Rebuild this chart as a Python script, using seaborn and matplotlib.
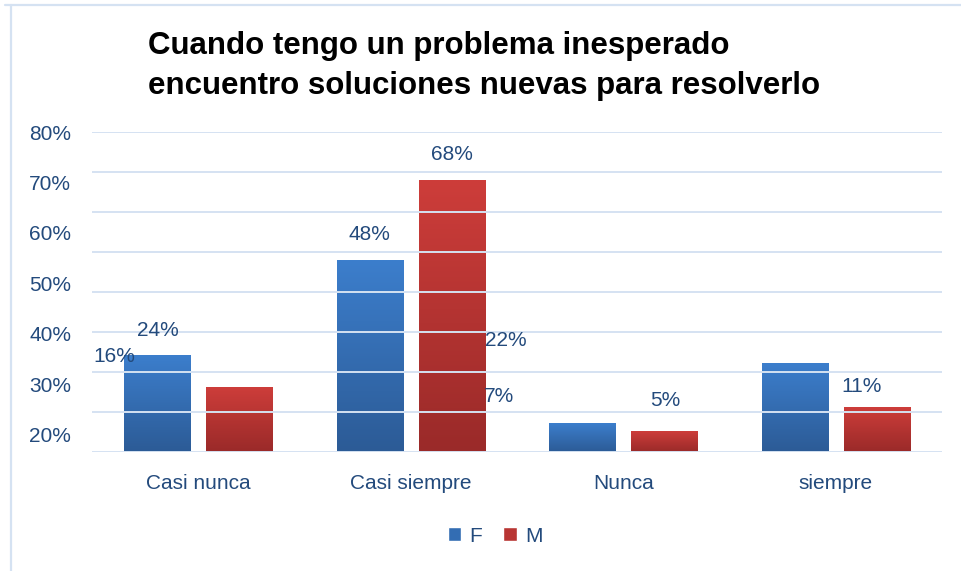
import numpy as np
import pandas as pd
import matplotlib
matplotlib.use("Agg")
import matplotlib.pyplot as plt
import seaborn as sns
from matplotlib.colors import LinearSegmentedColormap
from matplotlib.patches import Patch
from matplotlib.lines import Line2D

# data
categories = ["Casi nunca", "Casi siempre", "Nunca", "siempre"]
f_values = [24, 48, 7, 22]
m_values = [16, 68, 5, 11]
series = ["F", "M"]
ytick_labels = ["20%", "30%", "40%", "50%", "60%", "70%", "80%"]

# where the data labels sit relative to their bar top (pixels), like the original
f_label_offsets = [(1, 26), (0, 25), (-83, 27), (-289, 23)]
m_label_offsets = [(-125, 32), (0, 26), (1, 31), (-15, 22)]

text_color = "#234A7C"
grid_color = "#D5E2F2"
blue_top, blue_bot = "#3C7ECC", "#2C5B96"
red_top, red_bot = "#CD3D3A", "#9A2A29"

df = pd.DataFrame({
    "cat": categories * 2,
    "val": f_values + m_values,
    "sexo": ["F"] * len(categories) + ["M"] * len(categories),
})

sns.set_theme(style="white")
plt.rcParams["font.family"] = ["Liberation Sans", "DejaVu Sans"]

W, H = 962, 571
fig = plt.figure(figsize=(W / 100, H / 100), dpi=100)
ax = fig.add_axes([92 / W, 1 - 452 / H, 850 / W, 320 / H])

sns.barplot(data=df, x="cat", y="val", hue="sexo", hue_order=series,
            palette=[blue_top, red_top], width=0.772, gap=0.195,
            legend=False, ax=ax)

# gradient fill for the bars
cmaps = [LinearSegmentedColormap.from_list("b", [blue_bot, blue_top]),
         LinearSegmentedColormap.from_list("r", [red_bot, red_top])]
grad = np.linspace(1, 0, 128).reshape(-1, 1)
for cont, cmap in zip(ax.containers, cmaps):
    for p in cont.patches:
        x0, y0, w, h = p.get_x(), p.get_y(), p.get_width(), p.get_height()
        ax.imshow(grad, extent=[x0, x0 + w, y0, y0 + h], cmap=cmap,
                  aspect="auto", zorder=1.5, interpolation="bilinear")
        p.set_facecolor("none")

# data labels
for cont, vals, offs in zip(ax.containers, [f_values, m_values],
                            [f_label_offsets, m_label_offsets]):
    for p, v, (dx, dy) in zip(cont.patches, vals, offs):
        ax.annotate(f"{v}%", xy=(p.get_x() + p.get_width() / 2, p.get_height()),
                    xytext=(dx * 0.72, dy * 0.72), textcoords="offset points",
                    ha="center", va="center", fontsize=15, color=text_color,
                    zorder=4)

# the y labels of the original follow their own (offset) scale
ax2 = ax.twinx()
ax2.yaxis.tick_left()
ax2.set_ylim(16.63, 80)
ax2.set_yticks(range(20, 81, 10))
ax2.set_yticklabels(ytick_labels)
ax2.tick_params(axis="y", length=0, pad=15, labelsize=15, labelcolor=text_color)
for s in ax2.spines.values():
    s.set_visible(False)
ax2.grid(False)

ax.set_xlim(-0.5, len(categories) - 0.5)
ax.set_ylim(0, 80)
ax.set_yticks(range(0, 81, 10))
ax.set_axisbelow(False)
ax.grid(axis="y", color=grid_color, linewidth=1.4)
ax.grid(axis="x", visible=False)
for s in ax.spines.values():
    s.set_visible(False)
ax.tick_params(axis="y", left=False, right=False, labelleft=False, length=0)
ax.tick_params(axis="x", bottom=False, pad=10, labelsize=15, labelcolor=text_color)
ax.set_xlabel("")
ax.set_ylabel("")

# title
fig.text(148 / W, 1 - 54 / H, "Cuando tengo un problema inesperado",
         fontsize=22.5, fontweight="bold", color="black", va="baseline", ha="left")
fig.text(148 / W, 1 - 94 / H, "encuentro soluciones nuevas para resolverlo",
         fontsize=22.5, fontweight="bold", color="black", va="baseline", ha="left")

# legend
handles = [Patch(facecolor="#336DB3"), Patch(facecolor="#B83533")]
fig.legend(handles, series, loc="center", bbox_to_anchor=(495 / W, 1 - 536 / H),
           ncol=2, frameon=False, fontsize=15, labelcolor=text_color,
           handlelength=0.65, handleheight=0.65, handletextpad=0.4,
           columnspacing=1.0)

# chart border (top and left edges visible in the original)
fig.add_artist(Line2D([5 / W, 1], [1 - 4.5 / H] * 2, color=grid_color, lw=1.6))
fig.add_artist(Line2D([11 / W] * 2, [0, 1 - 4.5 / H], color=grid_color, lw=1.6))

fig.savefig("out.png", dpi=100)
